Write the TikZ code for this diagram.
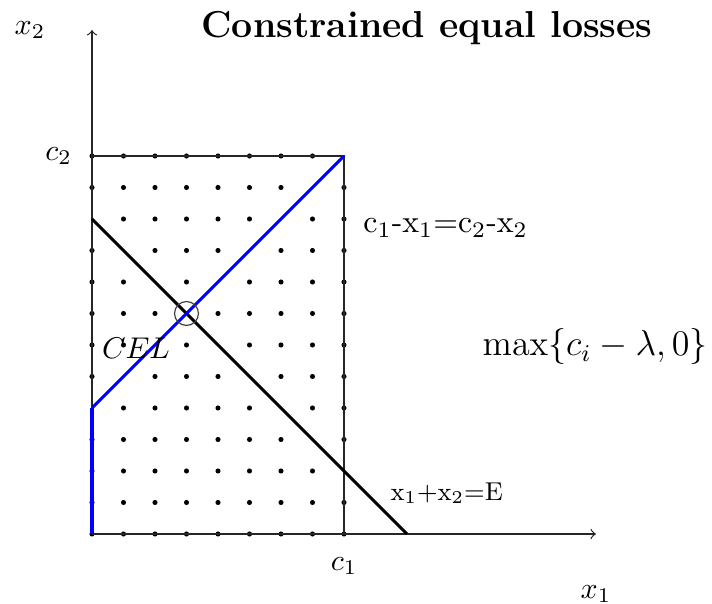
\documentclass[tikz,border=0pt]{standalone}
\begin{document}
\begin{tikzpicture}[x=10.5pt,y=10.5pt,
  axis/.style={line width=0.4pt,black!85,->},
  frame/.style={line width=0.4pt,black!85},
  dotmark/.style={fill=black},
  bluediag/.style={blue,line width=0.95pt},
  bluevert/.style={blue,line width=1.4pt},
  budget/.style={black,line width=1.05pt},
  lbl/.style={inner sep=0pt}]
\useasboundingbox (-2.9206,-2.2222) rectangle (19.683,16.952);
\coordinate (O) at (0,0);
\coordinate (C1) at (8,0);
\coordinate (C2) at (0,12);
\coordinate (C) at (8,12);
\coordinate (X1end) at (16,0);
\coordinate (X2end) at (0,16);
\coordinate (B) at (0,4);
\coordinate (E0) at (0,10);
\coordinate (E1) at (10,0);
\coordinate (P) at (3,7);
% dots
\foreach \x in {0,...,8}{
  \foreach \y in {0,...,12}{
    \pgfmathtruncatemacro{\s}{\x+\y}
    \pgfmathtruncatemacro{\d}{\y-\x}
    \ifnum\s=10\else\ifnum\d=4\else
      \fill[dotmark] (\x,\y) circle (0.85pt);
    \fi\fi
  }}
% frame and axes
\draw[frame] (C2) -- (C) -- (C1);
\draw[axis] (O) -- (X1end);
\draw[axis] (O) -- (X2end);
% lines
\draw[budget] (E0) -- (E1);
\draw[bluevert] (O) -- (B);
\draw[bluediag] (B) -- (C);
\draw[line width=0.4pt,black!75] (P) circle (0.38);
% labels
\node[lbl] (title) at (10.635,16.06) {\fontsize{12.5}{15}\selectfont\bfseries Constrained equal losses};
\node[lbl] (lx2) at (-1.968,16.0) {$x_2$};
\node[lbl,anchor=east] (lc2) at (-0.62,12.0) {$c_2$};
\node[lbl] (lc1) at (8,-1.02) {$c_1$};
\node[lbl] (lx1) at (16.0,-1.9) {$x_1$};
\node[lbl] (cel) at (1.397,5.905) {$CEL$};
\node[lbl,anchor=west] (eq) at (8.6,9.71) {\fontsize{10.6}{12}\selectfont c\textsubscript{1}-x\textsubscript{1}=c\textsubscript{2}-x\textsubscript{2}};
\node[lbl] (mx) at (15.97,5.94) {\large$\max\{c_i-\lambda,0\}$};
\node[lbl,anchor=west] (bud) at (9.46,1.30) {\fontsize{8.6}{10}\selectfont x\textsubscript{1}+x\textsubscript{2}=E};
\end{tikzpicture}
\end{document}
